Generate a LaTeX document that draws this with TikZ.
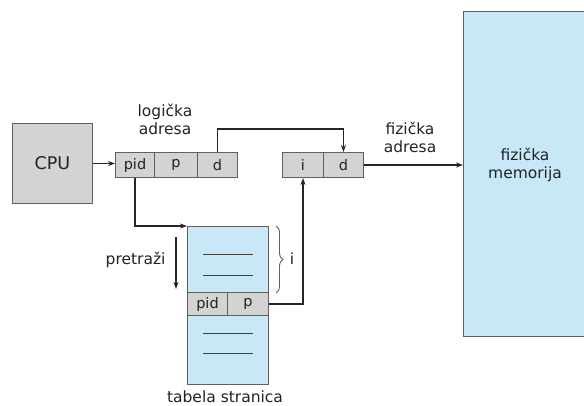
\documentclass[tikz,border=0pt]{standalone}
\usepackage{fontspec}
\setmainfont{DejaVu Sans}
\usetikzlibrary{arrows.meta,decorations.pathreplacing}
\definecolor{cellgray}{HTML}{D3D3D3}
\definecolor{memblue}{HTML}{C8E8F8}
\definecolor{edgegray}{HTML}{606060}
\definecolor{txt}{HTML}{222222}
\tikzset{
  box/.style={draw=edgegray,line width=1pt,inner sep=0pt,anchor=north west,text=txt,font=\fontsize{14.5}{16}\selectfont},
  graybox/.style={box,fill=cellgray},
  bluebox/.style={box,fill=memblue},
  conn/.style={draw=black!85,line width=1.3pt},
  arr/.style={conn,-{Stealth[length=7pt,width=5pt]}},
  lbl/.style={text=txt,font=\fontsize{15.5}{18}\selectfont,align=center},
  rowline/.style={draw=black!75,line width=0.9pt}
}
\begin{document}
\begin{tikzpicture}[x=1pt,y=-1pt]
\useasboundingbox (0,0) rectangle (584,405);
% CPU
\node[graybox,minimum width=80pt,minimum height=80pt,font=\fontsize{17.5}{20}\selectfont] (cpu) at (12,123) {CPU};
% logical address
\node[graybox,minimum width=39pt,minimum height=25pt] (lpid) at (115,152) {pid};
\node[graybox,minimum width=43pt,minimum height=25pt] (lp) at (154,152) {p};
\node[graybox,minimum width=40pt,minimum height=25pt] (ld) at (197,152) {d};
\node[lbl] (llab) at (165,119) {logička\\adresa};
% physical address
\node[graybox,minimum width=41pt,minimum height=25pt] (pi) at (282,152) {i};
\node[graybox,minimum width=40pt,minimum height=25pt] (pd) at (323,152) {d};
\node[lbl] (plab) at (410,137) {fizička\\adresa};
% memory
\node[bluebox,minimum width=125pt,minimum height=325pt] (mem) at (463,11) {};
\node[lbl] (memlab) at (525,165) {fizička\\memorija};
% page table
\node[bluebox,minimum width=81pt,minimum height=158pt] (tbl) at (187,226) {};
\node[graybox,minimum width=40pt,minimum height=23pt] (tpid) at (187,292) {pid};
\node[graybox,minimum width=41pt,minimum height=23pt] (tp) at (227,292) {p};
\draw[rowline] (203,254) -- (253,254);
\draw[rowline] (203,275) -- (253,275);
\draw[rowline] (203,333) -- (253,333);
\draw[rowline] (203,353) -- (253,353);
\node[lbl,anchor=base] (tlab) at (225,402) {tabela stranica};
% search arrow
\coordinate (s1) at (176,237);
\coordinate (s2) at (176,289);
\draw[arr] (s1) -- (s2);
\node[lbl,anchor=east] (slab) at (169,260) {pretraži};
% brace
\coordinate (b1) at (276,226);
\coordinate (b2) at (276,293);
\draw[draw=edgegray,line width=0.9pt,decorate,decoration={brace,amplitude=7pt}] (b1) -- (b2);
\node[lbl] (ilab) at (292,259) {i};
% connectors
\draw[arr] (cpu.east) -- (cpu.east -| lpid.west);
\coordinate (up) at (217,129);
\draw[arr] (ld.north) |- (pd.north |- up) -- (pd.north);
\draw[arr] (pd.east) -- (pd.east -| mem.west);
\draw[arr] (lpid.south) |- (tbl.north west);
\draw[arr] (tp.east) -| (pi.south);
\end{tikzpicture}
\end{document}
